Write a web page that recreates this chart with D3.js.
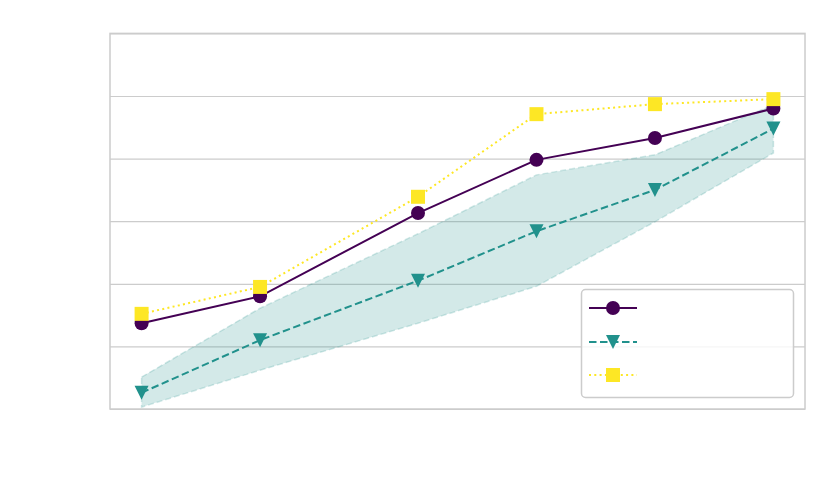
<!DOCTYPE html>
<html>
<head>
<meta charset="utf-8">
<script src="https://cdn.jsdelivr.net/npm/d3@7"></script>
<style>
  html, body { margin: 0; padding: 0; background: #ffffff; }
  svg { display: block; }
</style>
</head>
<body>
<svg id="chart" width="830" height="498"></svg>
<script>
// ---- data ----
const xValues = [0, 3, 7, 10, 13, 16];
const seriesA = [1.37, 1.80, 3.13, 3.98, 4.33, 4.80];   // purple, circles, solid
const seriesB = [0.26, 1.10, 2.05, 2.84, 3.50, 4.48];   // teal, triangles, dashed
const seriesC = [1.52, 1.95, 3.39, 4.71, 4.87, 4.95];   // yellow, squares, dotted
const bandUpper = [0.51, 1.61, 2.80, 3.74, 4.06, 4.86];
const bandLower = [0.03, 0.62, 1.37, 1.96, 2.99, 4.09];
const yTicks = [0, 1, 2, 3, 4, 5, 6];

// ---- layout ----
const svg = d3.select("#chart");
const mLeft = 110, mRight = 805, mTop = 33.4, mBottom = 409;
const x = d3.scaleLinear().domain([-0.8, 16.8]).range([mLeft, mRight]);
const y = d3.scaleLinear().domain([0, 6]).range([mBottom, mTop]);

const grid = "#cccccc";

// gridlines via axis
svg.append("g")
  .attr("transform", `translate(${mLeft},0)`)
  .call(d3.axisLeft(y).tickValues(yTicks).tickSizeInner(-(mRight - mLeft)).tickSizeOuter(0).tickFormat(""))
  .call(g => g.select(".domain").remove())
  .call(g => g.selectAll(".tick line").attr("stroke", grid).attr("stroke-width", 1.2));

// band
const area = d3.area()
  .x((d, i) => x(xValues[i]))
  .y0((d, i) => y(bandLower[i]))
  .y1((d, i) => y(bandUpper[i]));
svg.append("path")
  .datum(xValues)
  .attr("d", area)
  .attr("fill", "#21918c")
  .attr("fill-opacity", 0.2)
  .attr("stroke", "#21918c")
  .attr("stroke-opacity", 0.2)
  .attr("stroke-width", 1.5)
  .attr("stroke-dasharray", "6,3");

// frame
svg.append("rect")
  .attr("x", mLeft).attr("y", mTop)
  .attr("width", mRight - mLeft).attr("height", mBottom - mTop)
  .attr("fill", "none").attr("stroke", grid).attr("stroke-width", 1.5);

// markers
const ms = 14;
const triDown = s => `M${-s/2},${-s/2}L${s/2},${-s/2}L0,${s/2}Z`;
const circleP = d3.symbol().type(d3.symbolCircle).size(Math.PI * (ms/2) * (ms/2))();
const squareP = d3.symbol().type(d3.symbolSquare).size(ms * ms)();

const series = [
  { vals: seriesA, color: "#440154", dash: null, marker: circleP },
  { vals: seriesB, color: "#21918c", dash: "7.5,3.5", marker: triDown(ms) },
  { vals: seriesC, color: "#fde725", dash: "2,3.3", marker: squareP }
];

const line = d3.line().x((d, i) => x(xValues[i])).y(d => y(d));

series.forEach(s => {
  svg.append("path")
    .datum(s.vals)
    .attr("d", line)
    .attr("fill", "none")
    .attr("stroke", s.color)
    .attr("stroke-width", 2)
    .attr("stroke-dasharray", s.dash);
  svg.append("g").selectAll("path")
    .data(s.vals)
    .join("path")
    .attr("d", s.marker)
    .attr("transform", (d, i) => `translate(${x(xValues[i])},${y(d)})`)
    .attr("fill", s.color);
});

// legend
const lg = svg.append("g");
lg.append("rect")
  .attr("x", 581.5).attr("y", 289.5)
  .attr("width", 212).attr("height", 108)
  .attr("rx", 4)
  .attr("fill", "#ffffff").attr("fill-opacity", 0.8)
  .attr("stroke", grid).attr("stroke-width", 1.5);
const rowY = [308, 342, 375];
series.forEach((s, i) => {
  lg.append("line")
    .attr("x1", 589).attr("x2", 637)
    .attr("y1", rowY[i]).attr("y2", rowY[i])
    .attr("stroke", s.color).attr("stroke-width", 2)
    .attr("stroke-dasharray", s.dash);
  lg.append("path")
    .attr("d", s.marker)
    .attr("transform", `translate(613,${rowY[i]})`)
    .attr("fill", s.color);
});
</script>
</body>
</html>
